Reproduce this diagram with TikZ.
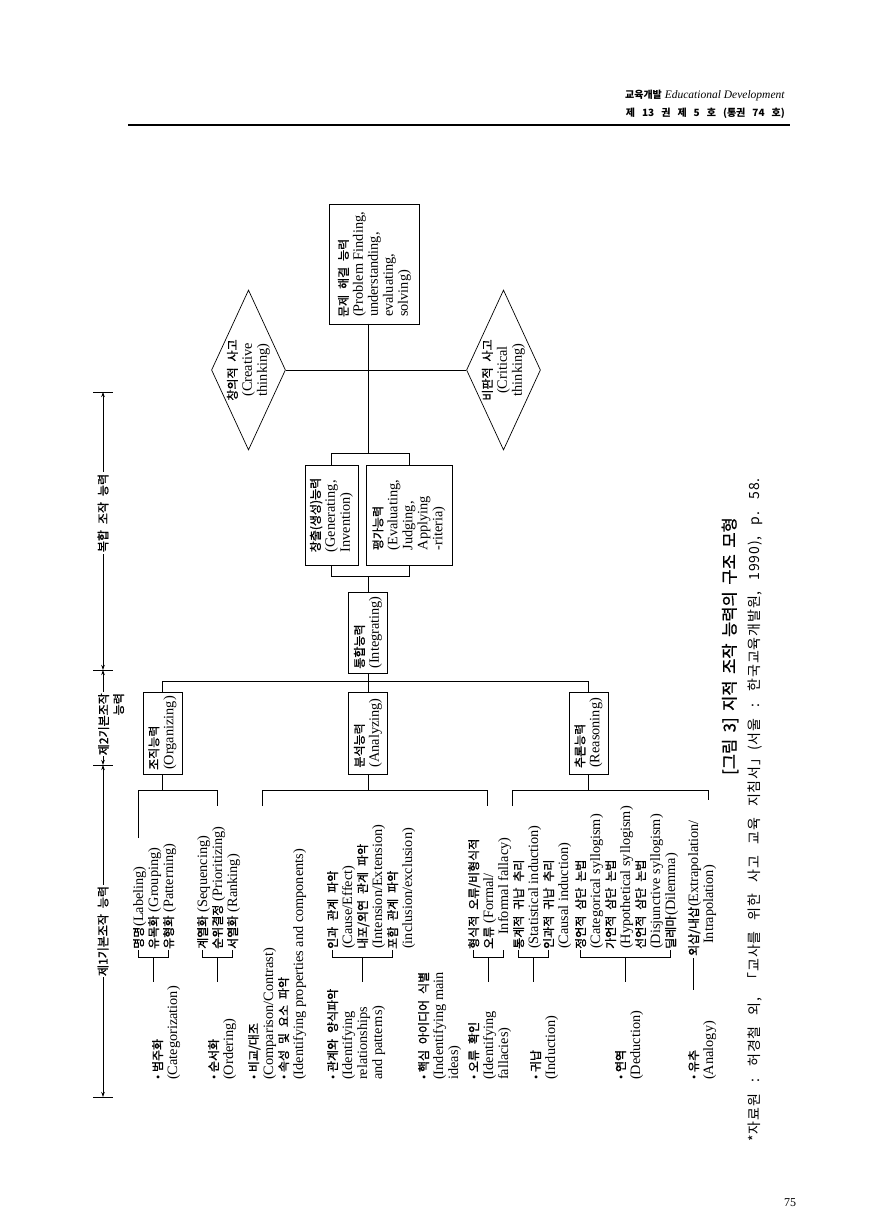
\documentclass[tikz,border=0pt]{standalone}
\usepackage{fontspec}
\setmainfont{Liberation Serif}
\newfontfamily\krf{Noto Sans CJK KR}[Scale=0.84, WordSpace=2.2, FakeBold=1.2]
\newfontfamily\krc{Noto Sans CJK KR}[WordSpace=1.8]
\newfontfamily\krcb{Noto Sans CJK KR}[WordSpace=1.8, FakeBold=1]
\newfontfamily\krs{Noto Sans CJK KR}[WordSpace=2.8, LetterSpace=6]
\newcommand\K[1]{{\krf #1}}
\newcommand\bul{{\fontsize{12}{12}\selectfont\textbullet}\ }
\usetikzlibrary{shapes.geometric,arrows.meta}
\begin{document}
\begin{tikzpicture}[x=1pt,y=-1pt,
  txt/.style={rotate=90, anchor=north west, align=left, inner sep=0pt, font=\fontsize{14.3}{15}\selectfont},
  bx/.style={draw, rotate=90, align=left, inner sep=0pt, line width=0.7pt, font=\fontsize{14.3}{15}\selectfont},
  dia/.style={draw, diamond, rotate=90, align=center, inner sep=0pt, line width=0.7pt, shape aspect=2.16, minimum width=160pt, minimum height=74pt, font=\fontsize{14.3}{15}\selectfont},
  lvl/.style={bx, minimum width=82pt, minimum height=39pt},
  ln/.style={line width=0.8pt},
  dim/.style={line width=0.8pt, {Stealth[length=5pt,width=3.5pt]}-{Stealth[length=5pt,width=3.5pt]}},
  tlab/.style={rotate=90, fill=white, inner sep=1.5pt, font=\fontsize{14.3}{15}\selectfont},
]
\useasboundingbox (0,0) rectangle (881,1231);

% header
\node[anchor=base east, inner sep=0pt, font=\fontsize{11.5}{13}\selectfont] (hd1) at (785,99)
  {{\krc\bfseries\fontsize{10}{13}\selectfont 교육개발}\ \textit{Educational Development}};
\node[anchor=base east, inner sep=0pt, font=\krc\bfseries\fontsize{10}{13}\selectfont] (hd2) at (785,116)
  {제\hspace{7pt}13\hspace{7pt}권\hspace{7pt}제\hspace{7pt}5\hspace{7pt}호\hspace{7pt}(통권\hspace{7pt}74\hspace{7pt}호)};
\draw[line width=1.6pt] (128,125) -- (790,125);
\node[font=\fontsize{12}{14}\selectfont] (pg) at (790,1203) {75};

% timeline
\coordinate (T0) at (103,392);
\coordinate (T1) at (103,670);
\coordinate (T2) at (103,765);
\coordinate (T3) at (103,1097);
\foreach \t in {T0,T1,T2,T3} \draw[ln] ([xshift=-10pt]\t) -- ([xshift=10pt]\t);
\draw[dim] (T0) -- (T1);
\draw[dim] (T1) -- (T2);
\draw[dim] (T2) -- (T3);
\node[tlab] (lab1) at (103,513) {\K{복합 조작 능력}};
\node[tlab, anchor=north east, align=right, inner sep=1pt] (lab2) at (97,692) {\K{제2기본조작}\\\K{능력}};
\node[tlab] (lab3) at (103,931) {\K{제1기본조작 능력}};

% top part
\node[bx, double, double distance=2pt, minimum width=117.5pt, minimum height=87.5pt] (prob) at (374.5,264.5)
  {\K{문제 해결 능력}\\(Problem Finding,\\understanding,\\evaluating,\\solving)};
\node[dia] (cre) at (248.5,370) {\K{창의적 사고}\\(Creative\\thinking)};
\node[dia] (crit) at (503.5,370) {\K{비판적 사고}\\(Critical\\thinking)};
\node[bx, minimum width=100pt, minimum height=53pt] (gen) at (331.5,515)
  {\K{창출(생성)능력}\\(Generating,\\Invention)};
\node[bx, minimum width=100pt, minimum height=86pt] (eval) at (409,515)
  {\K{평가능력}\\(Evaluating,\\Judging,\\Applying\\-riteria)};
\node[bx, minimum width=81pt, minimum height=39pt] (integ) at (368,632.5)
  {\K{통합능력}\\(Integrating)};
\node[lvl] (org) at (162.5,733) {\K{조직능력}\\(Organizing)};
\node[lvl] (ana) at (368,733) {\K{분석능력}\\(Analyzing)};
\node[lvl] (rea) at (588.5,733) {\K{추론능력}\\(Reasoning)};

\coordinate (sp1) at (368,453);
\coordinate (sp2) at (368,576);
\coordinate (lv) at (0,681);
\coordinate (gb) at (0,790);
\draw[ln] (prob.west -| sp1) -- (sp1);
\draw[ln] (cre.south) -- (crit.north);
\draw[ln] (gen.east) -- (gen.east |- sp1) -- (eval.east |- sp1) -- (eval.east);
\draw[ln] (gen.west) -- (gen.west |- sp2) -- (eval.west |- sp2) -- (eval.west);
\draw[ln] (sp2) -- (integ.east);
\draw[ln] (org.east) -- (org.east |- lv) -- (rea.east |- lv) -- (rea.east);
\draw[ln] (integ.west) -- (ana.east);
\draw[ln] (org.west) -- (org.west |- gb);
\draw[ln] (ana.west) -- (ana.west |- gb);
\draw[ln] (rea.west) -- (rea.west |- gb);
\draw[ln] (138,838) -- (138,790) -- (217,790) -- (217,806);
\draw[ln] (262,806) -- (262,790) -- (487,790) -- (487,806);
\draw[ln] (512,806) -- (512,790) -- (708,790) -- (708,800);

% category labels
\node[txt] (cat) at (152,1080) {\bul\K{범주화}\\(Categorization)};
\node[txt] (ord) at (208,1080) {\bul\K{순서화}\\(Ordering)};
\node[txt] (cmp) at (248,1080) {\bul\K{비교/대조}\\(Comparison/Contrast)};
\node[txt] (prop) at (278,1080) {\bul\K{속성 및 요소 파악}\\(Identifying properties and components)};
\node[txt] (rel) at (327,1080) {\bul\K{관계와 양식파악}\\(Identifying\\relationships\\and patterns)};
\node[txt] (mid) at (418,1080) {\bul\K{핵심 아이디어 식별}\\(Indentifying main\\ideas)};
\node[txt] (fal) at (468,1080) {\bul\K{오류 확인}\\(Identifying\\fallacies)};
\node[txt] (ind) at (530,1080) {\bul\K{귀납}\\(Induction)};
\node[txt] (ded) at (615,1080) {\bul\K{연역}\\(Deduction)};
\node[txt] (anl) at (688,1080) {\bul\K{유추}\\(Analogy)};

% sub items
\node[txt] (s1) at (133,949) {\K{명명}(Labeling)\\\K{유목화} (Grouping)\\\K{유형화} (Patterning)};
\node[txt] (s2) at (197,949) {\K{계열화} (Sequencing)\\\K{순위결정} (Prioritizing)\\\K{서열화} (Ranking)};
\node[txt] (s3) at (327,949) {\K{인과 관계 파악}\\(Cause/Effect)\\\K{내포/외연 관계 파악}\\(Intension/Extension)\\\K{포함 관계 파악}\\(inclusion/exclusion)};
\node[txt] (s4) at (468,949) {\K{형식적 오류/비형식적}\\\K{오류} (Formal/\\\hspace*{14pt}Informal fallacy)};
\node[txt] (s5) at (513,949) {\K{통계적 귀납 추리}\\(Statistical induction)\\\K{인과적 귀납 추리}\\(Causal induction)};
\node[txt] (s6) at (575,949) {\K{정언적 삼단 논법}\\(Categorical syllogism)\\\K{가언적 삼단 논법}\\(Hypothetical syllogism)\\\K{선언적 삼단 논법}\\(Disjunctive syllogism)\\\K{딜레마}(Dilemma)};
\node[txt] (s7) at (688,956) {\K{외삽/내삽}(Extrapolation/\\\hspace*{12pt}Intrapolation)};

% sub brackets
\foreach \a/\b/\s in {138/168/153, 202/232/217, 332/392/362, 473/503/488, 518/548/533, 580/670/625} {
  \draw[ln] (\a,950) -- (\a,957) -- (\b,957) -- (\b,950);
  \draw[ln] (\s,957) -- (\s,982);
}
\draw[ln] (693,958) -- (693,990);

% caption
\node[rotate=90, anchor=west, inner sep=0pt, font=\krcb\fontsize{16.5}{18}\selectfont] (cap) at (730,775)
  {[그림 3] 지적 조작 능력의 구조 모형};
\node[rotate=90, anchor=west, inner sep=0pt, font=\krs\fontsize{14}{16}\selectfont] (src) at (755,1142)
  {*자료원 : 허경철 외, 「교사를 위한 사고 교육 지침서」(서울 : 한국교육개발원, 1990), p. 58.};
\end{tikzpicture}
\end{document}
